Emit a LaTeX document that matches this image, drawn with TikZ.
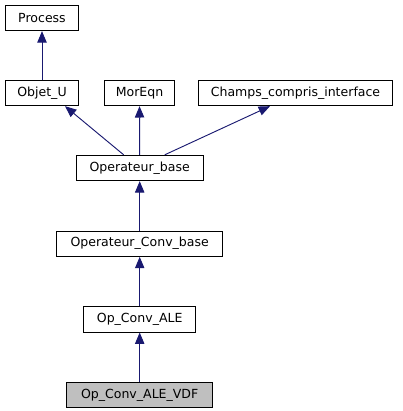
\documentclass[tikz,border=0pt]{standalone}
\usepackage{fontspec}
\setmainfont{DejaVu Sans}
\usetikzlibrary{arrows.meta,positioning,calc}
\definecolor{edgeblue}{RGB}{25,25,112}
\definecolor{basegray}{RGB}{191,191,191}

\begin{document}
\begin{tikzpicture}[x=0.75pt,y=-0.75pt,
  every node/.style={font=\fontsize{9.4}{11}\selectfont},
  cls/.style={draw,line width=0.75pt,inner sep=0pt,minimum height=19pt},
  inherit/.style={edgeblue,line width=0.7pt,-{Triangle[length=8.5pt,width=7pt]}}]
\useasboundingbox (0,0) rectangle (403,411);
\node[cls,minimum width=55pt] (proc) at (42,18) {Process};
\node[cls,minimum width=55pt] (obj) at (42,93) {Objet\_U};
\node[cls,minimum width=53pt] (mor) at (139.5,93) {MorEqn};
\node[cls,minimum width=145pt] (champs) at (295.5,93) {Champs\_compris\_interface};
\node[cls,minimum width=95pt] (opb) at (139.7,168) {Operateur\_base};
\node[cls,minimum width=124.5pt,below=37pt of opb] (opcb) {Operateur\_Conv\_base};
\node[cls,minimum width=84pt,below=37pt of opcb] (ale) {Op\_Conv\_ALE};
\node[cls,minimum width=109.5pt,fill=basegray,below=37pt of ale] (vdf) {Op\_Conv\_ALE\_VDF};
\draw[inherit] (obj) -- (proc);
\draw[inherit] ($(opb.north)+(-16,0)$) -- ($(obj.south)+(23,0)$);
\draw[inherit] (opb) -- (mor);
\draw[inherit] ($(opb.north)+(25,0)$) -- ($(champs.south)+(-25.5,0)$);
\draw[inherit] (opcb) -- (opb);
\draw[inherit] (ale) -- (opcb);
\draw[inherit] (vdf) -- (ale);
\end{tikzpicture}
\end{document}
